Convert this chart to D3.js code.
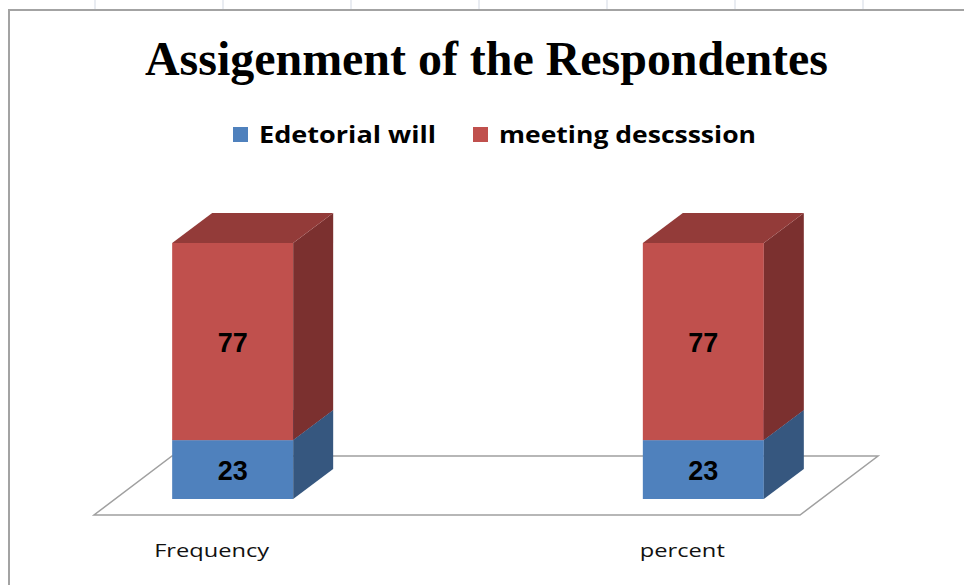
<!DOCTYPE html>
<html lang="en">
<head>
  <meta charset="UTF-8">
  <title>Assigenment of the Respondentes</title>
  <style>
    body { margin: 0; background: #fff; }
  </style>
</head>
<body>
  <div id="main"></div>
</body>
</html>
<script src="https://cdn.jsdelivr.net/npm/d3@7"></script>
<script>
  // data
  let categories = ["Frequency", "percent"]
  let seriesNames = ["Edetorial will", "meeting descsssion"]
  let editorialWill = [23, 23]
  let meetingDiscussion = [77, 77]
  let colors = ["#4f81bd", "#c0504d"]
  let sideColors = ["#36577f", "#7b302f"]
  let topColors = ["#41689a", "#933b39"]

  let svg = d3.select('#main').append('svg')
    .attr('width', 964)
    .attr('height', 585)

  // spreadsheet grid peeking above the chart
  let gridX = [95, 223, 351, 479, 607, 735, 863]
  gridX.forEach(x => {
    svg.append('line')
      .attr('x1', x).attr('x2', x)
      .attr('y1', 0).attr('y2', 10)
      .attr('stroke', '#d3d9e4')
      .attr('stroke-width', 1)
  })
  // chart border
  svg.append('rect')
    .attr('x', 9).attr('y', 10)
    .attr('width', 970).attr('height', 600)
    .attr('fill', '#fff')
    .attr('stroke', '#a3a3a3')
    .attr('stroke-width', 2)

  // title (the picture is a bit stretched sideways, so fit the width)
  svg.append('text')
    .attr('x', 145).attr('y', 75)
    .attr('textLength', 683)
    .attr('lengthAdjust', 'spacingAndGlyphs')
    .style('font-family', '"Liberation Serif", "Times New Roman", serif')
    .style('font-weight', 'bold')
    .style('font-size', '48px')
    .text('Assigenment of the Respondentes')

  // legend
  let legendX = [233, 473]
  let legendW = [177, 257]
  seriesNames.forEach((name, i) => {
    svg.append('rect')
      .attr('x', legendX[i]).attr('y', 127)
      .attr('width', 15).attr('height', 15)
      .attr('fill', colors[i])
    svg.append('text')
      .attr('x', legendX[i] + 26).attr('y', 143)
      .attr('textLength', legendW[i])
      .attr('lengthAdjust', 'spacingAndGlyphs')
      .style('font-family', '"Open Sans", sans-serif')
      .style('font-weight', 'bold')
      .style('font-size', '23px')
      .text(name)
  })

  // scales
  let x = d3.scalePoint().domain(categories).range([94, 800]).padding(0.25)
  let y = d3.scaleLinear().domain([0, 100]).range([499, 243])
  let barW = 121
  let front = { dx: 21, dy: 16 }      // bar front relative to floor front
  let depth = { dx: 40, dy: -30 }     // bar depth
  let floorDepth = { dx: 78, dy: -59 }

  // floor
  let fy = y(0) + front.dy
  let fx0 = x.range()[0], fx1 = x.range()[1]
  svg.append('polygon')
    .attr('points', [
      [fx0, fy], [fx1, fy],
      [fx1 + floorDepth.dx, fy + floorDepth.dy],
      [fx0 + floorDepth.dx, fy + floorDepth.dy]
    ].map(p => p.join(',')).join(' '))
    .attr('fill', '#fff')
    .attr('stroke', '#a0a0a0')
    .attr('stroke-width', 1.5)

  // stacked bars
  let table = categories.map((c, i) => ({ cat: c, s0: editorialWill[i], s1: meetingDiscussion[i] }))
  let stack = d3.stack().keys(['s0', 's1'])(table)

  let pts = arr => arr.map(p => p.join(',')).join(' ')
  stack.forEach((layer, li) => {
    layer.forEach(d => {
      let left = x(d.data.cat) - barW / 2 + front.dx
      let right = left + barW
      let yTop = y(d[1]), yBot = y(d[0])
      let g = svg.append('g')
      g.append('rect')
        .attr('x', left).attr('y', yTop)
        .attr('width', barW).attr('height', yBot - yTop)
        .attr('fill', colors[li])
      g.append('polygon')
        .attr('points', pts([[right, yTop], [right + depth.dx, yTop + depth.dy],
          [right + depth.dx, yBot + depth.dy], [right, yBot]]))
        .attr('fill', sideColors[li])
      g.append('polygon')
        .attr('points', pts([[left, yTop], [right, yTop],
          [right + depth.dx, yTop + depth.dy], [left + depth.dx, yTop + depth.dy]]))
        .attr('fill', topColors[li])
      g.append('text')
        .attr('x', (left + right) / 2)
        .attr('y', (yTop + yBot) / 2 + 10)
        .attr('text-anchor', 'middle')
        .style('font-family', '"Liberation Sans", Arial, sans-serif')
        .style('font-weight', 'bold')
        .style('font-size', '27px')
        .text(d[1] - d[0])
    })
  })

  // category labels
  let labelW = [115, 85]
  categories.forEach((c, i) => {
    svg.append('text')
      .attr('x', x(c) - labelW[i] / 2).attr('y', 557)
      .attr('textLength', labelW[i])
      .attr('lengthAdjust', 'spacingAndGlyphs')
      .style('font-family', '"Open Sans", sans-serif')
      .style('font-size', '19px')
      .style('fill', '#111')
      .text(c)
  })
</script>
